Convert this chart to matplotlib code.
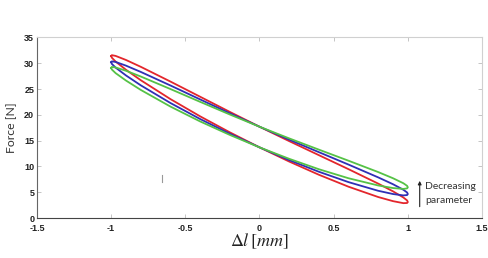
import matplotlib
matplotlib.use("Agg")
import matplotlib.pyplot as plt

# Displacement grid (mm) shared by all loop branches
dl = [-1, -0.995, -0.97, -0.9, -0.8, -0.6, -0.4, -0.2, 0, 0.2, 0.4, 0.6, 0.8, 0.9, 0.97, 0.995, 1]

# Force (N): upper / lower branch of each loop
red_upper = [31.4, 31.57, 31.43, 30.64, 29.31, 26.45, 23.51, 20.57, 17.7, 14.91, 12.19, 9.47, 6.67, 5.17, 3.98, 3.41, 3.1]
red_lower = [31.4, 31.07, 30.33, 28.74, 26.71, 23.05, 19.71, 16.61, 13.7, 10.95, 8.39, 6.07, 4.07, 3.27, 2.88, 2.91, 3.1]
blue_upper = [30.2, 30.37, 30.26, 29.54, 28.32, 25.69, 22.99, 20.30, 17.7, 15.19, 12.77, 10.36, 7.88, 6.55, 5.48, 4.95, 4.65]
blue_lower = [30.2, 29.87, 29.16, 27.64, 25.72, 22.29, 19.19, 16.34, 13.7, 11.23, 8.97, 6.96, 5.28, 4.65, 4.38, 4.45, 4.65]
green_upper = [29.1, 29.28, 29.19, 28.55, 27.43, 25.0, 22.52, 20.07, 17.7, 15.44, 13.26, 11.11, 8.91, 7.71, 6.74, 6.24, 5.95]
green_lower = [29.1, 28.78, 28.09, 26.65, 24.83, 21.6, 18.72, 16.11, 13.7, 11.48, 9.46, 7.71, 6.31, 5.81, 5.64, 5.74, 5.95]

xticks = [-1.5, -1, -0.5, 0, 0.5, 1, 1.5]
xtick_labels = ["-1.5", "-1", "-0.5", "0", "0.5", "1", "1.5"]
yticks = [0, 5, 10, 15, 20, 25, 30, 35]
ytick_labels = ["0", "5", "10", "15", "20", "25", "30", "35"]

# small stray mark visible in the reference
stray_x = [-0.655, -0.655]
stray_y = [6.9, 8.4]

# annotation arrow (start/end in data units)
arrow_x = 1.08
arrow_y = [2.2, 7.2]

plt.rcParams['mathtext.fontset'] = 'stix'

fig = plt.figure(figsize=(4.88, 2.58), dpi=100)
ax = fig.add_axes([0.0758, 0.155, 0.9119, 0.6997])

loops = [
    (red_upper, red_lower, '#e3262c'),
    (blue_upper, blue_lower, '#2f2fb5'),
    (green_upper, green_lower, '#55c246'),
]
for up, lo, col in loops:
    xs = dl + dl[::-1]
    ys = up + lo[::-1]
    ax.plot(xs, ys, color=col, lw=1.3, solid_joinstyle='round')

ax.plot(stray_x, stray_y, color='#999999', lw=0.8)

ax.set_xlim(-1.5, 1.5)
ax.set_ylim(0, 35)
ax.set_xticks(xticks)
ax.set_xticklabels(xtick_labels)
ax.set_yticks(yticks)
ax.set_yticklabels(ytick_labels)

for lab in ax.get_xticklabels() + ax.get_yticklabels():
    lab.set_fontfamily('Liberation Sans')
    lab.set_fontsize(6.5)
    lab.set_fontweight('bold')
    lab.set_color('#222222')

ax.tick_params(direction='in', length=3, width=0.6, colors='#bbbbbb',
               labelcolor='#222222', top=True, right=True)
ax.tick_params(axis='x', pad=4)
ax.tick_params(axis='y', pad=2)
ax.spines['left'].set_color('#666666')
ax.spines['bottom'].set_color('#444444')
ax.spines['top'].set_color('#d0d0d0')
ax.spines['right'].set_color('#d0d0d0')
for s in ax.spines.values():
    s.set_linewidth(0.8)

ax.set_ylabel('Force [N]', fontfamily='Lato', fontsize=8.8, color='#333333', labelpad=5)
ax.set_xlabel(r'$\Delta l\,[mm]$', fontsize=13, color='#222222', labelpad=-1)

ax.annotate('', xy=(arrow_x, arrow_y[1]), xytext=(arrow_x, arrow_y[0]),
            arrowprops=dict(arrowstyle='-|>', color='#222222', lw=0.8,
                            mutation_scale=5, shrinkA=0, shrinkB=0))
ax.text(1.115, 6.2, 'Decreasing', fontfamily='Lato', fontsize=7.5,
        color='#333333', va='center', ha='left')
ax.text(1.115, 3.4, 'parameter', fontfamily='Lato', fontsize=7.5,
        color='#333333', va='center', ha='left')

fig.savefig('out.png', dpi=100)
